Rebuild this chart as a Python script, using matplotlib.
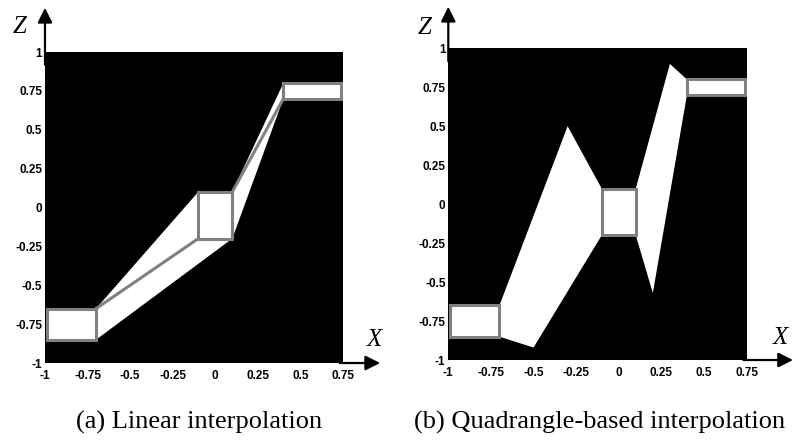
import matplotlib.pyplot as plt
from matplotlib.patches import Rectangle, Polygon

# key boxes (x0, x1, z0, z1)
box_x0 = [-0.99, -0.1, 0.4]
box_x1 = [-0.7, 0.1, 0.74]
box_z0 = [-0.85, -0.2, 0.7]
box_z1 = [-0.65, 0.1, 0.8]

# (a) linear interpolation regions
lin_low_x = [-0.7, -0.1, 0.1, -0.7]
lin_low_z = [-0.65, 0.1, -0.2, -0.85]
lin_up_x = [0.1, 0.4, 0.4, 0.1]
lin_up_z = [0.1, 0.8, 0.7, -0.2]
lin_line1_x = [-0.7, -0.1]
lin_line1_z = [-0.65, -0.2]
lin_line2_x = [0.1, 0.4]
lin_line2_z = [0.1, 0.7]

# (b) quadrangle-based interpolation regions
quad_low_x = [-0.7, -0.3, -0.1, -0.1, -0.5, -0.7]
quad_low_z = [-0.65, 0.5, 0.1, -0.2, -0.92, -0.85]
quad_up_x = [0.1, 0.3, 0.4, 0.4, 0.2, 0.1]
quad_up_z = [0.1, 0.9, 0.8, 0.7, -0.57, -0.2]

xticks = [-1, -0.75, -0.5, -0.25, 0, 0.25, 0.5, 0.75]
xtick_labels = ['-1', '-0.75', '-0.5', '-0.25', '0', '0.25', '0.5', '0.75']
zticks = [-1, -0.75, -0.5, -0.25, 0, 0.25, 0.5, 0.75, 1]
ztick_labels = ['-1', '-0.75', '-0.5', '-0.25', '0', '0.25', '0.5', '0.75', '1']

gray = '#808080'
tick_font = dict(family=['Liberation Sans Narrow', 'Liberation Sans'], weight='bold', size=8.5)
serif = ['Liberation Serif', 'DejaVu Serif']

fig = plt.figure(figsize=(7.95, 4.48), dpi=100)
ax1 = fig.add_axes([0.0566, 0.1897, 0.3748, 0.6942])
ax2 = fig.add_axes([0.5639, 0.1964, 0.3752, 0.6958])


def setup(ax, ztip, xtip, zlab, xlab):
    ax.set_facecolor('black')
    ax.set_xlim(-1, 0.75)
    ax.set_ylim(-1, 1)
    ax.set_xticks(xticks)
    ax.set_xticklabels(xtick_labels, fontdict=tick_font)
    ax.set_yticks(zticks)
    ax.set_yticklabels(ztick_labels, fontdict=tick_font)
    ax.tick_params(length=0, pad=2)
    ax.tick_params(axis='x', pad=5)
    for s in ax.spines.values():
        s.set_visible(False)
    ax.annotate('', xy=(0, ztip), xytext=(0, 0.95), xycoords='axes fraction',
                arrowprops=dict(arrowstyle='-|>', lw=1.6, color='black', mutation_scale=22))
    ax.annotate('', xy=(xtip, 0), xytext=(0.98, 0), xycoords='axes fraction',
                arrowprops=dict(arrowstyle='-|>', lw=1.6, color='black', mutation_scale=22))
    ax.text(zlab[0], zlab[1], 'Z', transform=ax.transAxes, ha='center', va='center',
            family=serif, style='italic', size=18)
    ax.text(xlab[0], xlab[1], 'X', transform=ax.transAxes, ha='center', va='center',
            family=serif, style='italic', size=18)


def boxes(ax):
    for x0, x1, z0, z1 in zip(box_x0, box_x1, box_z0, box_z1):
        ax.add_patch(Rectangle((x0, z0), x1 - x0, z1 - z0, facecolor='white',
                               edgecolor=gray, lw=2.2, zorder=3))


setup(ax1, 1.151, 1.134, (-0.084, 1.080), (1.107, 0.074))
ax1.add_patch(Polygon(list(zip(lin_low_x, lin_low_z)), closed=True, facecolor='white', lw=0))
ax1.add_patch(Polygon(list(zip(lin_up_x, lin_up_z)), closed=True, facecolor='white', lw=0))
ax1.plot(lin_line1_x, lin_line1_z, color=gray, lw=2.2, zorder=2)
ax1.plot(lin_line2_x, lin_line2_z, color=gray, lw=2.2, zorder=2)
boxes(ax1)

setup(ax2, 1.142, 1.165, (-0.080, 1.064), (1.112, 0.071))
ax2.add_patch(Polygon(list(zip(quad_low_x, quad_low_z)), closed=True, facecolor='white', lw=0))
ax2.add_patch(Polygon(list(zip(quad_up_x, quad_up_z)), closed=True, facecolor='white', lw=0))
boxes(ax2)

fig.text(0.251, 0.056, '(a) Linear interpolation', ha='center', va='center',
         family=serif, size=19)
fig.text(0.754, 0.056, '(b) Quadrangle-based interpolation', ha='center', va='center',
         family=serif, size=19)

fig.savefig('out.png', dpi=100)
